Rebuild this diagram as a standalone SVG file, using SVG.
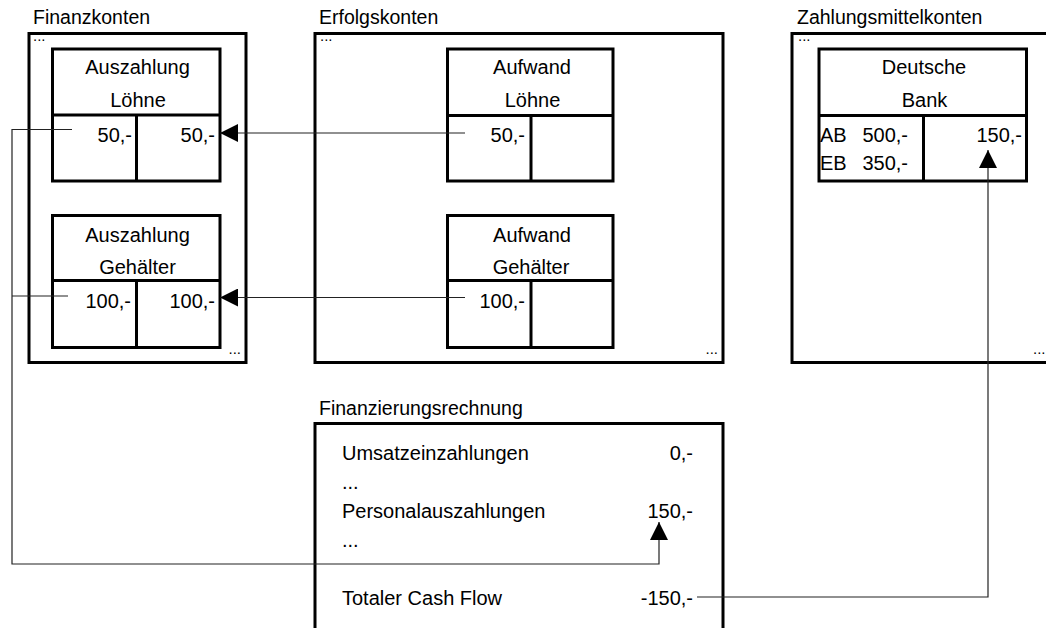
<svg xmlns="http://www.w3.org/2000/svg" width="1046" height="628" viewBox="0 0 1046 628">
<style>
  text { font-family: "Liberation Sans", Arial, sans-serif; font-size: 20px; fill: #000; }
  .lbl { font-size: 19.5px; }
  .dots { font-size: 15px; }
  .mid { text-anchor: middle; }
  .end { text-anchor: end; }
  .box { fill: #fff; stroke: #000; stroke-width: 3; }
  .div { stroke: #000; stroke-width: 3; fill: none; }
  .conn { fill: none; stroke: #222; stroke-width: 1.2; }
</style>
<defs>
  <marker id="arr" viewBox="0 0 18 18" refX="18" refY="9" markerWidth="18" markerHeight="18" markerUnits="userSpaceOnUse" orient="auto">
    <path d="M0,0 L18,9 L0,18 Z" fill="#000"/>
  </marker>
</defs>
<rect width="1046" height="628" fill="#fff"/>

<!-- Finanzkonten -->
<g id="finanzkonten">
  <text class="lbl" x="33" y="24">Finanzkonten</text>
  <rect class="box" x="29" y="33.5" width="217" height="329"/>
  <text class="dots" x="33" y="41">...</text>
  <text class="dots end" x="241" y="354">...</text>
</g>
<g id="auszahlung-loehne">
  <rect class="box" x="52.5" y="49" width="167.5" height="132"/>
  <line class="div" x1="52.5" y1="115" x2="220" y2="115"/>
  <line class="div" x1="136.5" y1="115" x2="136.5" y2="181"/>
  <text class="mid" x="137.5" y="74">Auszahlung</text>
  <text class="mid" x="138" y="107">Löhne</text>
  <text class="end" x="132" y="142">50,-</text>
  <text class="end" x="215" y="142">50,-</text>
</g>
<g id="auszahlung-gehaelter">
  <rect class="box" x="52.5" y="215.5" width="167.5" height="132"/>
  <line class="div" x1="52.5" y1="280.5" x2="220" y2="280.5"/>
  <line class="div" x1="136.5" y1="280.5" x2="136.5" y2="347.5"/>
  <text class="mid" x="137.5" y="242">Auszahlung</text>
  <text class="mid" x="137.5" y="274">Gehälter</text>
  <text class="end" x="131" y="308">100,-</text>
  <text class="end" x="215" y="308">100,-</text>
</g>

<!-- Erfolgskonten -->
<g id="erfolgskonten">
  <text class="lbl" x="319" y="24">Erfolgskonten</text>
  <rect class="box" x="315" y="33.5" width="408" height="329"/>
  <text class="dots" x="320" y="41">...</text>
  <text class="dots end" x="718" y="354">...</text>
</g>
<g id="aufwand-loehne">
  <rect class="box" x="447.5" y="49" width="165.5" height="132"/>
  <line class="div" x1="447.5" y1="115.5" x2="613" y2="115.5"/>
  <line class="div" x1="531" y1="115.5" x2="531" y2="181"/>
  <text class="mid" x="532" y="74">Aufwand</text>
  <text class="mid" x="532.5" y="107">Löhne</text>
  <text class="end" x="525" y="142">50,-</text>
</g>
<g id="aufwand-gehaelter">
  <rect class="box" x="447.5" y="215.5" width="165.5" height="132"/>
  <line class="div" x1="447.5" y1="280.5" x2="613" y2="280.5"/>
  <line class="div" x1="531" y1="280.5" x2="531" y2="347.5"/>
  <text class="mid" x="532" y="242">Aufwand</text>
  <text class="mid" x="531" y="274">Gehälter</text>
  <text class="end" x="525" y="308">100,-</text>
</g>

<!-- Zahlungsmittelkonten -->
<g id="zahlungsmittelkonten">
  <text class="lbl" x="797" y="24">Zahlungsmittelkonten</text>
  <rect class="box" x="792" y="33.5" width="270" height="329"/>
  <text class="dots" x="798" y="41">...</text>
  <text class="dots" x="1033" y="354">...</text>
</g>
<g id="deutsche-bank">
  <rect class="box" x="819" y="49" width="207.5" height="132"/>
  <line class="div" x1="819" y1="115.5" x2="1026.5" y2="115.5"/>
  <line class="div" x1="923.5" y1="115.5" x2="923.5" y2="181"/>
  <text class="mid" x="924" y="74">Deutsche</text>
  <text class="mid" x="924.5" y="107">Bank</text>
  <text x="820" y="142">AB</text>
  <text class="end" x="908" y="142">500,-</text>
  <text x="820" y="170">EB</text>
  <text class="end" x="908" y="170">350,-</text>
  <text class="end" x="1022" y="142">150,-</text>
</g>

<!-- Finanzierungsrechnung -->
<g id="finanzierungsrechnung">
  <text class="lbl" x="319" y="415">Finanzierungsrechnung</text>
  <rect class="box" x="315" y="423.5" width="408" height="230"/>
  <text x="342" y="460">Umsatzeinzahlungen</text>
  <text class="end" x="693" y="460">0,-</text>
  <text x="342" y="489">...</text>
  <text x="342" y="518">Personalauszahlungen</text>
  <text class="end" x="693" y="518">150,-</text>
  <text x="342" y="547">...</text>
  <text x="342" y="605">Totaler Cash Flow</text>
  <text class="end" x="693" y="605">-150,-</text>
</g>

<!-- Connectors -->
<g id="connectors">
  <path class="conn" d="M465,133 H220" marker-end="url(#arr)"/>
  <path class="conn" d="M465,297.5 H220" marker-end="url(#arr)"/>
  <path class="conn" d="M72,129.5 H12 V564 H659 V522" marker-end="url(#arr)"/>
  <path class="conn" d="M68,296 H12"/>
  <path class="conn" d="M697,597 H988 V150" marker-end="url(#arr)"/>
</g>
</svg>
